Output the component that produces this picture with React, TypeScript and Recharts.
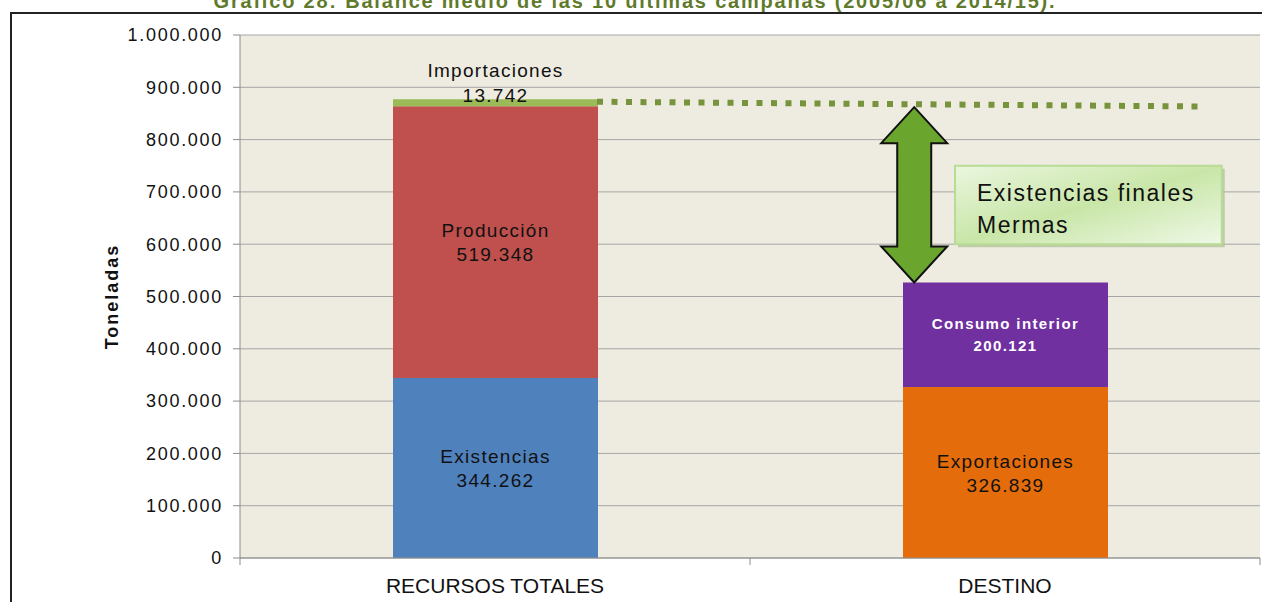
import React from 'react';
import {
  ComposedChart,
  Bar,
  XAxis,
  YAxis,
  CartesianGrid,
  LabelList,
  ReferenceLine,
  ReferenceArea,
} from 'recharts';

const categories = ['RECURSOS TOTALES', 'DESTINO'];
const positions = [0.5, 1.5];
const existencias = [344262, 0];
const produccion = [519348, 0];
const importaciones = [13742, 0];
const exportaciones = [0, 326839];
const consumoInterior = [0, 200121];
const yTicks = [0, 100000, 200000, 300000, 400000, 500000, 600000, 700000, 800000, 900000, 1000000];

const recursosTotal = existencias[0] + produccion[0] + importaciones[0];
const destinoTotal = exportaciones[1] + consumoInterior[1];

const data = categories.map((name, i) => ({
  name,
  pos: positions[i],
  existencias: existencias[i],
  produccion: produccion[i],
  importaciones: importaciones[i],
  exportaciones: exportaciones[i],
  consumo: consumoInterior[i],
}));

const fmt = (n: number) => String(Math.round(n)).replace(/\B(?=(\d{3})+(?!\d))/g, '.');

const FONT = '"Liberation Sans", Arial, sans-serif';

const segValue = (props: any) => {
  let v = props.value;
  if (Array.isArray(v)) v = v[1] - v[0];
  return typeof v === 'number' ? v : Number(v);
};

// two-line label in the middle of a stacked segment
const segmentLabel = (title: string, opts: { white?: boolean } = {}) =>
  (props: any) => {
    const { x, y, width, height } = props;
    const v = segValue(props);
    if (!v || !height) return null;
    const cx = x + width / 2;
    const cy = y + height / 2;
    if (opts.white) {
      return (
        <g fontFamily={FONT} fontSize={15} fontWeight="bold" fill="#fff" letterSpacing={1.4} textAnchor="middle">
          <text x={cx} y={cy - 6}>{title}</text>
          <text x={cx} y={cy + 16}>{fmt(v)}</text>
        </g>
      );
    }
    return (
      <g fontFamily={FONT} fontSize={19} fill="#111" letterSpacing={1.3} textAnchor="middle">
        <text x={cx} y={cy - 5}>{title}</text>
        <text x={cx} y={cy + 19}>{fmt(v)}</text>
      </g>
    );
  };

const topLabel = (title: string) => (props: any) => {
  const { x, y, width, height } = props;
  const v = segValue(props);
  if (!v || !height) return null;
  const cx = x + width / 2;
  return (
    <g fontFamily={FONT} fontSize={19} fill="#111" letterSpacing={1.3} textAnchor="middle">
      <text x={cx} y={y - 22}>{title}</text>
      <text x={cx} y={y + 3}>{fmt(v)}</text>
    </g>
  );
};

const XTick = (props: any) => {
  const { x, y, payload, index, visibleTicksCount } = props;
  const half = payload && payload.offset ? payload.offset : 255;
  return (
    <g>
      <line x1={x - half} y1={y} x2={x - half} y2={y + 7} stroke="#8c8c8c" />
      {index === visibleTicksCount - 1 && (
        <line x1={x + half} y1={y} x2={x + half} y2={y + 7} stroke="#8c8c8c" />
      )}
      <text x={x} y={y + 35} textAnchor="middle" fontFamily={FONT} fontSize={21} fill="#111">
        {payload.value}
      </text>
    </g>
  );
};

const DoubleArrow = (props: any) => {
  const { x1, y1, y2 } = props;
  if (x1 == null || y1 == null) return null;
  const top = y1 + 8;
  const bot = y2;
  const s = 17;
  const h = 33;
  const hl = 36;
  const pts = [
    [x1, top],
    [x1 + h, top + hl],
    [x1 + s, top + hl],
    [x1 + s, bot - hl],
    [x1 + h, bot - hl],
    [x1, bot],
    [x1 - h, bot - hl],
    [x1 - s, bot - hl],
    [x1 - s, top + hl],
    [x1 - h, top + hl],
  ]
    .map((p) => p.join(','))
    .join(' ');
  return <polygon points={pts} fill="#6aa62e" stroke="#111" strokeWidth={2} strokeLinejoin="miter" />;
};

const NoteBox = (props: any) => {
  const { x, y, width, height } = props;
  return (
    <g>
      <defs>
        <linearGradient id="noteGrad" x1="0" y1="0" x2="1" y2="1">
          <stop offset="0%" stopColor="#eaf6df" />
          <stop offset="50%" stopColor="#c9e6a8" />
          <stop offset="100%" stopColor="#eef8e6" />
        </linearGradient>
      </defs>
      <rect x={x + 3} y={y + 3} width={width} height={height} fill="#a9bf92" opacity={0.7} />
      <rect x={x} y={y} width={width} height={height} fill="url(#noteGrad)" stroke="#b8dc94" strokeWidth={2} />
      <g fontFamily={FONT} fontSize={23} fill="#111" letterSpacing={1.5}>
        <text x={x + 22} y={y + 35}>Existencias finales</text>
        <text x={x + 22} y={y + 67}>Mermas</text>
      </g>
    </g>
  );
};

const YLabel = (props: any) => {
  const vb = props.viewBox || {};
  const cy = vb.height ? vb.y + vb.height / 2 : 296;
  return (
    <text
      x={118}
      y={cy}
      transform={`rotate(-90, 118, ${cy})`}
      textAnchor="middle"
      fontFamily={FONT}
      fontSize={18}
      fontWeight="bold"
      letterSpacing={2}
      fill="#111"
    >
      Toneladas
    </text>
  );
};

export default function App() {
  return (
    <div style={{ position: 'absolute', left: 0, top: 0, width: 1262, height: 602, overflow: 'hidden', background: '#fff' }}>
      <div
        style={{
          position: 'absolute',
          top: -9,
          left: 0,
          width: 1262,
          textAlign: 'center',
          fontFamily: FONT,
          fontWeight: 'bold',
          fontSize: 20,
          letterSpacing: 1.8,
          color: '#5f7a2a',
          lineHeight: '20px',
          paddingLeft: 4,
        }}
      >
        Gráfico 28: Balance medio de las 10 últimas campañas (2005/06 a 2014/15).
      </div>
      <div
        style={{
          position: 'absolute',
          left: 10,
          top: 12,
          width: 1300,
          height: 650,
          borderTop: '2px solid #222',
          borderLeft: '2px solid #222',
        }}
      />
      <div style={{ position: 'absolute', left: 0, top: 0 }}>
        <ComposedChart width={1262} height={602} data={data} margin={{ top: 35, right: 2, bottom: 0, left: 0 }}>
          <CartesianGrid vertical={false} stroke="#a6a6a6" fill="#eeebe0" />
          <XAxis
            dataKey="name"
            height={44}
            axisLine={{ stroke: '#8c8c8c' }}
            tickLine={false}
            tickSize={0}
            tickMargin={0}
            interval={0}
            tick={<XTick />}
          />
          <XAxis
            xAxisId="pos"
            dataKey="pos"
            type="number"
            scale="linear"
            domain={[0, 2]}
            allowDataOverflow
            hide
          />
          <YAxis
            width={240}
            domain={[0, 1000000]}
            ticks={yTicks}
            interval={0}
            tickFormatter={fmt}
            axisLine={{ stroke: '#8c8c8c' }}
            tickLine={{ stroke: '#8c8c8c' }}
            tickSize={7}
            tickMargin={10}
            tick={{ fontFamily: FONT, fontSize: 18, fill: '#111', letterSpacing: 1.7 }}
            label={<YLabel />}
          />
          <Bar dataKey="existencias" stackId="a" fill="#4f81bd" barSize={205} isAnimationActive={false}>
            <LabelList dataKey="existencias" content={segmentLabel('Existencias')} />
          </Bar>
          <Bar dataKey="produccion" stackId="a" fill="#c0504d" barSize={205} isAnimationActive={false}>
            <LabelList dataKey="produccion" content={segmentLabel('Producción')} />
          </Bar>
          <Bar dataKey="importaciones" stackId="a" fill="#9bbb59" barSize={205} isAnimationActive={false}>
            <LabelList dataKey="importaciones" content={topLabel('Importaciones')} />
          </Bar>
          <Bar dataKey="exportaciones" stackId="a" fill="#e46c0a" barSize={205} isAnimationActive={false}>
            <LabelList dataKey="exportaciones" content={segmentLabel('Exportaciones')} />
          </Bar>
          <Bar dataKey="consumo" stackId="a" fill="#7030a0" barSize={205} isAnimationActive={false}>
            <LabelList dataKey="consumo" content={segmentLabel('Consumo interior', { white: true })} />
          </Bar>
          <ReferenceLine
            xAxisId="pos"
            segment={[
              { x: 0.7, y: recursosTotal - 5000 },
              { x: 1.882, y: recursosTotal - 14000 },
            ]}
            stroke="#77933c"
            strokeWidth={6}
            strokeDasharray="6 8.5"
            ifOverflow="visible"
          />
          <ReferenceLine
            xAxisId="pos"
            segment={[
              { x: 1.322, y: recursosTotal },
              { x: 1.322, y: destinoTotal },
            ]}
            shape={<DoubleArrow />}
            ifOverflow="visible"
          />
          <ReferenceArea
            xAxisId="pos"
            x1={1.402}
            x2={1.925}
            y1={600000}
            y2={750000}
            ifOverflow="visible"
            shape={<NoteBox />}
          />
        </ComposedChart>
      </div>
    </div>
  );
}
